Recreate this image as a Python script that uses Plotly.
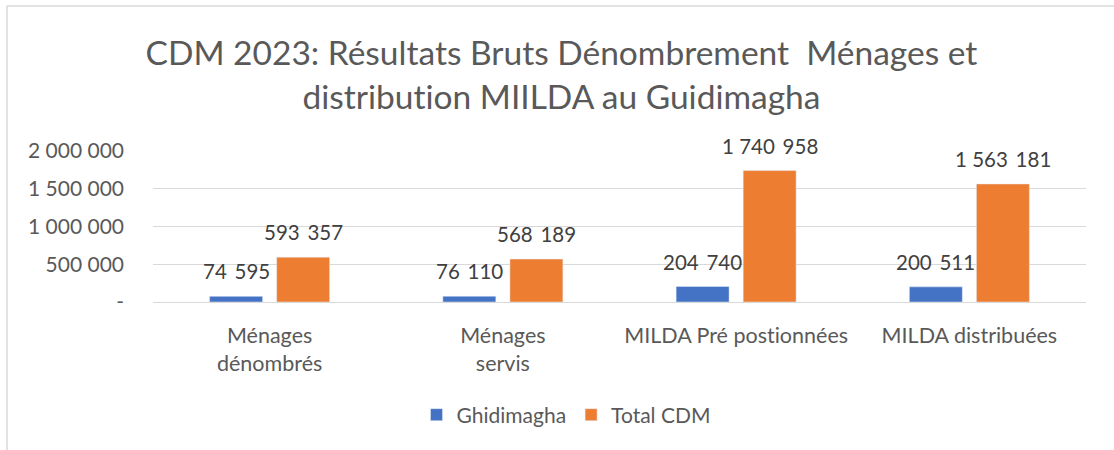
import plotly.graph_objects as go

categories = ["Ménages<br>dénombrés", "Ménages<br>servis", "MILDA Pré postionnées", "MILDA distribuées"]
ghidimagha = [74595, 76110, 204740, 200511]
total_cdm = [593357, 568189, 1740958, 1563181]
ytick_vals = [0, 500000, 1000000, 1500000, 2000000]
ytick_text = ["-", "500 000", "1 000 000", "1 500 000", "2 000 000"]

BLUE = "#4472C4"
ORANGE = "#ED7D31"
FONT = "Lato"

W, H = 1114, 450
ML, MR, MT, MB = 153, 28, 151, 148
BARGAP = 0.425
BARGROUPGAP = 0.21

def fmt(v):
    s = f"{v:,}"
    parts = s.split(",")
    if len(parts) == 1:
        return s
    return "\u00a0".join(parts[:-1]) + "\u00a0\u2009" + parts[-1]

fig = go.Figure()
fig.add_trace(go.Bar(x=categories, y=ghidimagha, name="Ghidimagha", marker_color=BLUE))
fig.add_trace(go.Bar(x=categories, y=total_cdm, name="Total CDM", marker_color=ORANGE))

annotations = []
slot = (1 - BARGAP) / 2
for series, off in ((ghidimagha, -slot / 2), (total_cdm, slot / 2)):
    for i, v in enumerate(series):
        annotations.append(dict(x=i + off, y=v, xref="x", yref="y", text=fmt(v),
                                showarrow=False, yshift=25, yanchor="middle",
                                font=dict(family=FONT, size=20.5, color="#404040")))

pw = W - ML - MR
ph = H - MT - MB
fig.update_layout(
    width=W, height=H,
    margin=dict(l=ML, r=MR, t=MT, b=MB),
    paper_bgcolor="white", plot_bgcolor="white",
    barmode="group", bargap=BARGAP, bargroupgap=BARGROUPGAP,
    title=dict(text="CDM 2023: Résultats Bruts Dénombrement  Ménages et<br>distribution MIILDA au Guidimagha",
               x=0.504, xref="container", xanchor="center", y=1 - 65 / H, yref="container", yanchor="middle",
               font=dict(family=FONT, size=33.5, color="#595959")),
    font=dict(family=FONT, color="#595959"),
    showlegend=True,
    legend=dict(orientation="h", x=(566 - ML) / pw, xanchor="center", y=-(415 - (H - MB)) / ph, yanchor="middle",
                font=dict(family=FONT, size=21, color="#595959"), itemwidth=30, traceorder="normal"),
    annotations=annotations,
    shapes=[
        dict(type="line", xref="paper", yref="paper", x0=(7 - ML) / pw, x1=(7 - ML) / pw,
             y0=(H - MB - 6) / ph, y1=-(H - MB) / ph - 0.1, line=dict(color="#d9d9d9", width=1.5)),
        dict(type="line", xref="paper", yref="paper", x0=(7 - ML) / pw, x1=1.2,
             y0=(H - MB - 6) / ph, y1=(H - MB - 6) / ph, line=dict(color="#d9d9d9", width=1.5)),
    ],
)
fig.update_xaxes(showline=True, linecolor="#d9d9d9", linewidth=1, ticks="", showgrid=False,
                 ticklabelstandoff=14,
                 tickfont=dict(family=FONT, size=21.5, color="#595959"))
fig.update_yaxes(range=[0, 2000000], tickvals=ytick_vals, ticktext=ytick_text, showgrid=True,
                 gridcolor="#d9d9d9", gridwidth=1, zeroline=False, showline=False, ticks="",
                 ticklabelstandoff=28,
                 tickfont=dict(family=FONT, size=21, color="#595959"))

post = (
    "document.body.style.margin='0';document.body.style.overflow='hidden';"
    "var st=document.createElement('style');"
    "st.textContent='text{font-variant-ligatures:none !important;font-feature-settings:\"liga\" 0 !important;}';"
    "document.head.appendChild(st);"
)
fig.write_html("out.html", config={"displayModeBar": False}, post_script=post)
